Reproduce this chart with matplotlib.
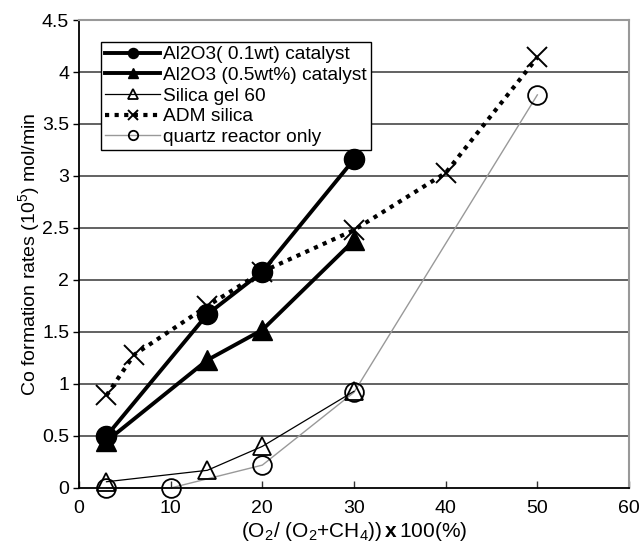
import matplotlib
matplotlib.use("Agg")
import matplotlib.pyplot as plt

plt.rcParams['font.family'] = ['Liberation Sans', 'DejaVu Sans']
plt.rcParams['mathtext.fontset'] = 'custom'
plt.rcParams['mathtext.rm'] = 'Liberation Sans'
plt.rcParams['mathtext.it'] = 'Liberation Sans:italic'
plt.rcParams['mathtext.bf'] = 'Liberation Sans:bold'

al01_x = [3, 14, 20, 30]
al01_y = [0.50, 1.67, 2.08, 3.16]
al05_x = [3, 14, 20, 30]
al05_y = [0.45, 1.23, 1.52, 2.38]
sg_x = [3, 14, 20, 30]
sg_y = [0.06, 0.17, 0.40, 0.93]
adm_x = [3, 6, 14, 20, 30, 40, 50]
adm_y = [0.89, 1.28, 1.75, 2.08, 2.48, 3.03, 4.14]
qz_x = [3, 10, 20, 30, 50]
qz_y = [0.00, 0.00, 0.22, 0.92, 3.78]

labels = ["Al2O3( 0.1wt) catalyst", "Al2O3 (0.5wt%) catalyst", "Silica gel 60",
          "ADM silica", "quartz reactor only"]
xticks = [0, 10, 20, 30, 40, 50, 60]
yticks = [0, 0.5, 1, 1.5, 2, 2.5, 3, 3.5, 4, 4.5]
yticklabels = ['0', '0.5', '1', '1.5', '2', '2.5', '3', '3.5', '4', '4.5']

fig = plt.figure(figsize=(6.41, 5.45), dpi=100)
ax = fig.add_axes([0.1232, 0.1046, 0.8581, 0.8587])

for y in yticks[1:-1]:
    ax.axhline(y, color='#555555', lw=1.3, zorder=0)

ax.plot(qz_x, qz_y, color='#999999', lw=1.0, marker='o', ms=13.5, mfc='none',
        mec='black', mew=1.3, label=labels[4], zorder=2, clip_on=False)
ax.plot(sg_x, sg_y, color='black', lw=0.9, marker='^', ms=13, mfc='none',
        mec='black', mew=1.3, label=labels[2], zorder=3, clip_on=False)
ax.plot(adm_x, adm_y, color='black', lw=3, ls=(0, (1.0, 1.3)), marker='x', ms=14,
        mec='black', mew=1.4, label=labels[3], zorder=4, clip_on=False)
ax.plot(al05_x, al05_y, color='black', lw=2.8, marker='^', ms=14, mfc='black',
        mec='black', label=labels[1], zorder=5, clip_on=False)
ax.plot(al01_x, al01_y, color='black', lw=2.8, marker='o', ms=14.5, mfc='black',
        mec='black', label=labels[0], zorder=6, clip_on=False)

ax.set_xlim(0, 60)
ax.set_ylim(0, 4.5)
ax.set_xticks(xticks)
ax.set_yticks(yticks)
ax.set_xticklabels([str(v) for v in xticks])
ax.set_yticklabels(yticklabels)
ax.tick_params(axis='x', direction='in', length=5, width=1, labelsize=14, pad=9,
               color='#333333')
ax.tick_params(axis='y', direction='out', length=4, width=1, labelsize=14, pad=3)

for s in ['left', 'bottom']:
    ax.spines[s].set_color('black')
    ax.spines[s].set_linewidth(1.3)
for s in ['right', 'top']:
    ax.spines[s].set_color('#999999')
    ax.spines[s].set_linewidth(1.5)

ax.set_xlabel(r'(O$_2$/ (O$_2$+CH$_4$))$\,\mathbf{x}\,$100(%)', fontsize=15)
ax.xaxis.set_label_coords(0.5, -0.093)
ax.xaxis.label.set_va('center')
ax.set_ylabel(r'Co formation rates (10$^5$) mol/min', fontsize=14)
ax.yaxis.set_label_coords(-0.0906, 0.5)
ax.yaxis.label.set_va('center')

h, l = ax.get_legend_handles_labels()
order = [4, 3, 1, 2, 0]
leg = ax.legend([h[i] for i in order], [l[i] for i in order],
                loc='upper left', bbox_to_anchor=(0.04, 0.953), fontsize=13.8,
                frameon=True, fancybox=False, edgecolor='black', framealpha=1,
                borderpad=0.2, labelspacing=0.17, handlelength=2.9,
                handletextpad=0.15, borderaxespad=0, markerscale=0.5)
leg.get_frame().set_linewidth(1.0)

fig.savefig('out.png', dpi=100)
